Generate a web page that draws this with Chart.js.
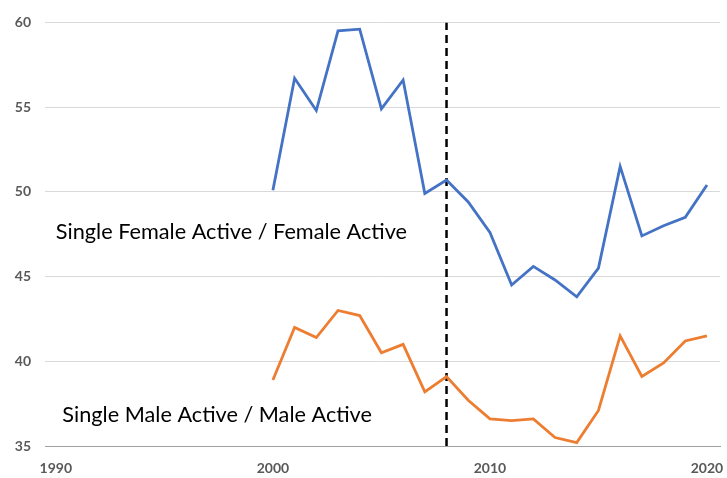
<!DOCTYPE html>
<html>
<head>
<meta charset="utf-8">
<script src="https://cdn.jsdelivr.net/npm/chart.js@4"></script>
<style>
  html, body { margin: 0; padding: 0; background: #fff; }
  #wrap { width: 727px; height: 478px; }
</style>
</head>
<body>
<div id="wrap"><canvas id="chart"></canvas></div>
<script>
// Years covered by both series
const years = [2000, 2001, 2002, 2003, 2004, 2005, 2006, 2007, 2008, 2009, 2010,
  2011, 2012, 2013, 2014, 2015, 2016, 2017, 2018, 2019, 2020];

// Single female active / female active (%)
const femaleRatio = [50.1, 56.7, 54.8, 59.5, 59.6, 54.9, 56.6, 49.9, 50.7, 49.4, 47.6,
  44.5, 45.6, 44.8, 43.8, 45.5, 51.5, 47.4, 48.0, 48.5, 50.4];

// Single male active / male active (%)
const maleRatio = [38.9, 42.0, 41.4, 43.0, 42.7, 40.5, 41.0, 38.2, 39.1, 37.7, 36.6,
  36.5, 36.6, 35.5, 35.2, 37.1, 41.5, 39.1, 39.9, 41.2, 41.5];

// Reference year marked by the dashed line
const markerYear = 2008;

const xTicks = [1990, 2000, 2010, 2020];
const yTicks = [35, 40, 45, 50, 55, 60];

// Text labels anchored in data coordinates
const seriesLabels = [
  { text: "Single Female Active / Female Active", x: 1990, y: 47.6 },
  { text: "Single Male Active / Male Active", x: 1990.3, y: 36.8 },
];

const toPoints = (vals) => vals.map((v, i) => ({ x: years[i], y: v }));

// draws the in-chart labels
const labelPlugin = {
  id: "seriesLabels",
  afterDatasetsDraw(chart) {
    const { ctx, scales } = chart;
    ctx.save();
    ctx.fillStyle = "#000";
    ctx.font = "21.7px Lato";
    ctx.textAlign = "left";
    ctx.textBaseline = "middle";
    seriesLabels.forEach((l) => {
      ctx.fillText(l.text, scales.x.getPixelForValue(l.x), scales.y.getPixelForValue(l.y));
    });
    ctx.restore();
  },
};

const ctx = document.getElementById("chart").getContext("2d");

new Chart(ctx, {
  type: "line",
  data: {
    datasets: [
      {
        label: "Single Female Active / Female Active",
        data: toPoints(femaleRatio),
        borderColor: "#4472C4",
        borderWidth: 2.8,
        pointRadius: 0,
        tension: 0,
      },
      {
        label: "Single Male Active / Male Active",
        data: toPoints(maleRatio),
        borderColor: "#ED7D31",
        borderWidth: 2.8,
        pointRadius: 0,
        tension: 0,
      },
      {
        label: "marker",
        data: [{ x: markerYear, y: yTicks[0] }, { x: markerYear, y: yTicks[yTicks.length - 1] }],
        borderColor: "#000",
        borderWidth: 2.5,
        borderDash: [8, 5],
        pointRadius: 0,
      },
    ],
  },
  options: {
    responsive: true,
    maintainAspectRatio: false,
    animation: false,
    layout: { padding: { top: 20, right: 7, left: 0, bottom: 0 } },
    plugins: {
      legend: { display: false },
      tooltip: { enabled: false },
    },
    scales: {
      x: {
        type: "linear",
        min: 1989.5,
        max: 2020.6,
        afterBuildTicks: (scale) => {
          scale.ticks = xTicks.map((v) => ({ value: v }));
        },
        afterFit: (scale) => {
          scale.height = 32;
          // labels sit inside the plot edges, no extra side padding needed
          scale.paddingLeft = 0;
          scale.paddingRight = 0;
        },
        grid: { display: false, drawTicks: false },
        border: { display: true, color: "#a0a0a0", width: 1 },
        ticks: {
          color: "#595959",
          font: { family: "Lato", size: 14, weight: "bold" },
          padding: 14,
          maxRotation: 0,
          callback: (v) => String(v),
        },
      },
      y: {
        min: 35,
        max: 60,
        afterBuildTicks: (scale) => {
          scale.ticks = yTicks.map((v) => ({ value: v }));
        },
        afterFit: (scale) => {
          scale.width = 45;
        },
        grid: { color: "#d9d9d9", lineWidth: 1, drawTicks: false },
        border: { display: false },
        ticks: {
          color: "#595959",
          font: { family: "Lato", size: 14, weight: "bold" },
          padding: 14,
        },
      },
    },
  },
  plugins: [labelPlugin],
});
</script>
</body>
</html>
